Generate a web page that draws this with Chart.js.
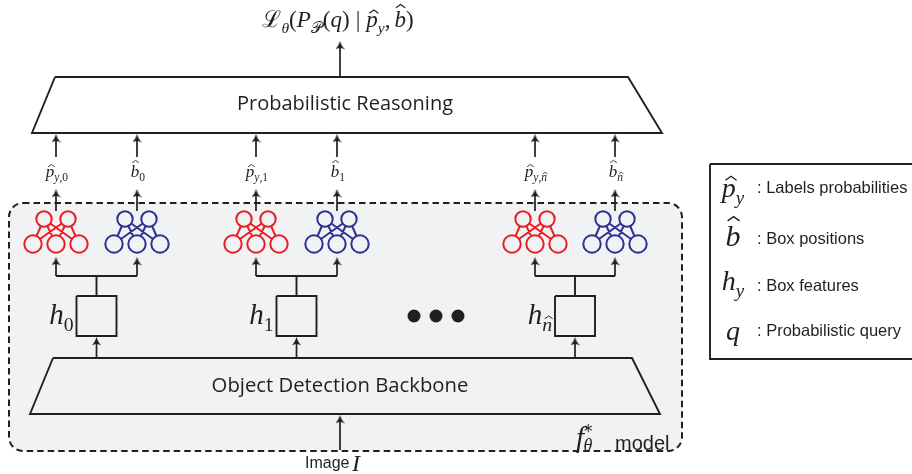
<!DOCTYPE html>
<html><head><meta charset="utf-8">
<script src="https://cdn.jsdelivr.net/npm/chart.js@4"></script>
<style>html,body{margin:0;padding:0;background:#fff;overflow:hidden}canvas{display:block}</style>
</head><body>
<canvas id="c" width="912" height="474"></canvas>
<script>
// ---------------- data (diagram coordinates in chart units) ----------------
const headCentersX = [56, 137, 256, 337, 535, 615];      // label head, box head, ...
const headKinds    = ['label', 'box', 'label', 'box', 'label', 'box'];
const headIndexTxt = ['0', '0', '1', '1', 'n', 'n'];       // 'n' = n-hat
const headTopY = 219, headBottomY = 244;
const headTopOffsets = [-12, 12];
const headBottomOffsets = [-23, 0, 23];
const featureBoxTopY = 296, featureBoxBottomY = 336, featureBoxHalf = 20;
const forkY = 276;
const reasoningX = [55, 628, 662, 32];   // TL, TR, BR, BL
const reasoningY = [77, 77, 133, 133];
const backboneX = [53, 632, 660, 30];
const backboneY = [358, 358, 414, 414];
const dotsX = [414, 436, 458];
const dotsY = 316;
const legendBoxX = [710, 916], legendBoxY = [164, 359];
const modelBox = { x0: 9, x1: 682, y0: 203, y1: 451, r: 14 };
const texts = {
  reasoning: 'Probabilistic Reasoning',
  backbone: 'Object Detection Backbone',
  legend: [': Labels probabilities', ': Box positions', ': Box features', ': Probabilistic query'],
  image: 'Image',
  model: 'model'
};

// ---------------- derived geometry ----------------
const featureBoxX = [0, 2, 4].map(i => (headCentersX[i] + headCentersX[i + 1]) / 2);
const P = (x, y) => ({ x, y });
const GAP = { x: null, y: null };

const structure = [];
const poly = (xs, ys) => { xs.forEach((x, i) => structure.push(P(x, ys[i]))); structure.push(P(xs[0], ys[0])); structure.push(GAP); };
poly(reasoningX, reasoningY);
poly(backboneX, backboneY);
featureBoxX.forEach(cx => poly([cx - featureBoxHalf, cx + featureBoxHalf, cx + featureBoxHalf, cx - featureBoxHalf],
                               [featureBoxTopY, featureBoxTopY, featureBoxBottomY, featureBoxBottomY]));
[0, 2, 4].forEach((i, k) => {
  structure.push(P(headCentersX[i], forkY), P(headCentersX[i + 1], forkY), GAP);
  structure.push(P(featureBoxX[k], featureBoxTopY), P(featureBoxX[k], forkY), GAP);
});
poly([legendBoxX[0], legendBoxX[1], legendBoxX[1], legendBoxX[0]], [legendBoxY[0], legendBoxY[0], legendBoxY[1], legendBoxY[1]]);

// arrows: tail y -> tip y (all point upward)
const arrows = [{ x: 340, y0: reasoningY[0], y1: 41 }, { x: 340, y0: 450, y1: backboneY[2] + 1 }];
headCentersX.forEach(x => {
  arrows.push({ x, y0: 157, y1: reasoningY[2] + 1 });
  arrows.push({ x, y0: 211, y1: 189 });
  arrows.push({ x, y0: forkY, y1: 257 });
});
featureBoxX.forEach(x => arrows.push({ x, y0: backboneY[0], y1: featureBoxBottomY + 1 }));
const arrowStems = [];
arrows.forEach(a => arrowStems.push(P(a.x, a.y0), P(a.x, a.y1 + 4), GAP));
const arrowTips = arrows.map(a => P(a.x, a.y1 + 4.5));

function headPts(kind, offs, y) {
  const out = [];
  headCentersX.forEach((cx, i) => { if (headKinds[i] === kind) offs.forEach(o => out.push(P(cx + o, y))); });
  return out;
}
function headLinks(kind) {
  const out = [];
  headCentersX.forEach((cx, i) => {
    if (headKinds[i] !== kind) return;
    headTopOffsets.forEach(t => headBottomOffsets.forEach(b => out.push(P(cx + t, headTopY), P(cx + b, headBottomY), GAP)));
  });
  return out;
}

// ---------------- styles ----------------
const INK = '#231f20', RED = '#ec1c24', BLUE = '#2e3192', BG = '#f1f2f4';
const ah = document.createElement('canvas'); ah.width = 9; ah.height = 9;
(() => { const a = ah.getContext('2d'); a.fillStyle = INK; a.beginPath();
  a.moveTo(4.5, 0); a.quadraticCurveTo(5.4, 4, 9, 8.6); a.quadraticCurveTo(5.8, 6.4, 4.5, 7.2);
  a.quadraticCurveTo(3.2, 6.4, 0, 8.6); a.quadraticCurveTo(3.6, 4, 4.5, 0); a.fill(); })();

const circleDs = (data, color, r) => ({ data, showLine: false, pointRadius: r, pointHoverRadius: r,
  pointBackgroundColor: BG, pointBorderColor: color, pointBorderWidth: 2, order: 1 });
const lineDs = (data, color, w, order) => ({ data, showLine: true, pointRadius: 0, borderColor: color,
  borderWidth: w, spanGaps: false, order, fill: false, borderJoinStyle: 'miter' });

const datasets = [
  circleDs(headPts('label', headTopOffsets, headTopY), RED, 7.7),
  circleDs(headPts('label', headBottomOffsets, headBottomY), RED, 8.7),
  circleDs(headPts('box', headTopOffsets, headTopY), BLUE, 7.7),
  circleDs(headPts('box', headBottomOffsets, headBottomY), BLUE, 8.7),
  lineDs(headLinks('label'), RED, 2, 3),
  lineDs(headLinks('box'), BLUE, 2, 3),
  lineDs(structure, INK, 1.9, 4),
  lineDs(arrowStems, INK, 1.7, 4),
  { data: arrowTips, showLine: false, pointStyle: ah, pointRadius: 5, order: 0 },
  { data: dotsX.map(x => P(x, dotsY)), showLine: false, pointRadius: 6.5, pointBackgroundColor: INK, pointBorderWidth: 0, order: 0 }
];

// ---------------- math text helpers ----------------
const SERIF = '"Liberation Serif","DejaVu Serif",serif';
const SANS = '"Liberation Sans",Arial,sans-serif';
const HUM = '"Open Sans",Lato,sans-serif';
const v = (t, s, o = {}) => Object.assign({ t, s, it: true }, o);
const sub = (parts, s) => parts.map(([t, it, extra]) => Object.assign({ t, s: s * 0.68, it, dy: s * 0.24 }, extra || {}));
const fontOf = it => (it.it ? 'italic ' : '') + it.s + 'px ' + (it.fam || SERIF);
function drawMath(ctx, items, x, y, align) {
  let w = 0;
  items.forEach(it => { if (it.sp) { w += it.sp; return; } ctx.font = fontOf(it); it._w = ctx.measureText(it.t).width; w += it._w; });
  let cx = align === 'center' ? x - w / 2 : align === 'right' ? x - w : x;
  ctx.textAlign = 'left'; ctx.textBaseline = 'alphabetic';
  items.forEach(it => {
    if (it.sp) { cx += it.sp; return; }
    const by = y + (it.dy || 0);
    ctx.font = fontOf(it); ctx.fillText(it.t, cx, by);
    if (it.hat) {
      const hx = cx + it._w / 2 + (it.hs != null ? it.hs : 0.08) * it.s, hy = by - it.hat * it.s;
      const hw = 0.2 * it.s, hh = 0.14 * it.s;
      ctx.save(); ctx.lineWidth = Math.max(0.8, it.s * 0.05); ctx.strokeStyle = ctx.fillStyle; ctx.lineJoin = 'miter';
      ctx.beginPath(); ctx.moveTo(hx - hw, hy); ctx.lineTo(hx, hy - hh); ctx.lineTo(hx + hw, hy); ctx.stroke(); ctx.restore();
    }
    cx += it._w;
  });
}
function idxSub(t, s) {
  return t === 'n' ? sub([['n', true, { hat: 0.62 }]], s) : sub([[t, false]], s);
}
function headLabel(kind, t) {
  if (kind === 'label') return [v('p', 17, { hat: 0.6 }), ...sub([['y', true], [',', false]], 17), ...idxSub(t, 17)];
  return [v('b', 17, { hat: 0.84, hs: 0.02 }), ...idxSub(t, 17)];
}
const FS = 23;
const topFormula = [
  v('ℒ', FS, { it: false, fam: '"DejaVu Serif",serif' }), ...sub([['θ', true]], FS),
  v('(', FS, { it: false }), v('P', FS), ...sub([['𝒫', false, { fam: '"DejaVu Serif","DejaVu Sans",serif' }]], FS),
  v('(', FS, { it: false }), v('q', FS), v(')', FS, { it: false }), { sp: 6 }, v('|', FS, { it: false }), { sp: 6 },
  v('p', FS, { hat: 0.6 }), ...sub([['y', true]], FS), v(',', FS, { it: false }), { sp: 4 },
  v('b', FS, { hat: 0.84, hs: 0.02 }), v(')', FS, { it: false })
];
const legendSyms = [
  [v('p', 28, { hat: 0.6 }), ...sub([['y', true]], 28)],
  [v('b', 30, { hat: 0.84, hs: 0.02 })],
  [v('h', 28), ...sub([['y', true]], 28)],
  [v('q', 28)]
];
const legendSymY = [197, 246, 290, 340];
const legendTextY = [193, 244, 291, 336];

function fitFont(ctx, text, fam, target) {
  ctx.font = '20px ' + fam; const w = ctx.measureText(text).width; return 20 * target / w;
}

const bgPlugin = {
  id: 'modelBox',
  beforeDatasetsDraw(chart) {
    const { ctx, scales: { x, y } } = chart;
    const x0 = x.getPixelForValue(modelBox.x0), x1 = x.getPixelForValue(modelBox.x1);
    const y0 = y.getPixelForValue(modelBox.y0), y1 = y.getPixelForValue(modelBox.y1);
    ctx.save();
    ctx.beginPath(); ctx.roundRect(x0, y0, x1 - x0, y1 - y0, modelBox.r);
    ctx.fillStyle = BG; ctx.fill();
    ctx.setLineDash([6.5, 4]); ctx.lineWidth = 2; ctx.strokeStyle = INK; ctx.stroke();
    ctx.restore();
  }
};
const textPlugin = {
  id: 'texts',
  afterDatasetsDraw(chart) {
    const { ctx, scales: { x, y } } = chart;
    const X = vv => x.getPixelForValue(vv), Y = vv => y.getPixelForValue(vv);
    ctx.save(); ctx.fillStyle = INK;
    drawMath(ctx, topFormula, X(338), Y(27), 'center');
    // trapezoid titles
    ctx.textAlign = 'center'; ctx.textBaseline = 'middle';
    let fs = fitFont(ctx, texts.reasoning, HUM, 216);
    ctx.font = fs.toFixed(2) + 'px ' + HUM; ctx.fillText(texts.reasoning, X(345), Y(104));
    fs = fitFont(ctx, texts.backbone, HUM, 257);
    ctx.font = fs.toFixed(2) + 'px ' + HUM; ctx.fillText(texts.backbone, X(340), Y(386));
    // head output labels
    headCentersX.forEach((cx, i) => drawMath(ctx, headLabel(headKinds[i], headIndexTxt[i]), X(cx + 1), Y(177), 'center'));
    // feature labels
    ['0', '1', 'n'].forEach((t, k) => drawMath(ctx, [v('h', 29), ...idxSub(t, 29)], X(featureBoxX[k] - featureBoxHalf - 3), Y(324), 'right'));
    // legend
    legendSyms.forEach((s, i) => drawMath(ctx, s, X(733), Y(legendSymY[i]), 'center'));
    ctx.textAlign = 'left'; ctx.textBaseline = 'alphabetic'; ctx.font = '16.5px ' + SANS;
    texts.legend.forEach((t, i) => ctx.fillText(t, X(757), Y(legendTextY[i])));
    // image + model
    ctx.font = '16px ' + SANS; ctx.fillText(texts.image, X(305), Y(468));
    drawMath(ctx, [v('I', 24)], X(352), Y(471), 'left');
    drawMath(ctx, [v('f', 29), v('*', 17, { it: false, dy: -10, fam: '"DejaVu Sans",sans-serif' }),
      { sp: -9 }, v('θ', 18, { dy: 4 })], X(576), Y(447), 'left');
    ctx.font = '20px ' + SANS; ctx.fillText(texts.model, X(615), Y(450));
    ctx.restore();
  }
};

new Chart(document.getElementById('c'), {
  type: 'scatter',
  data: { datasets },
  options: {
    responsive: false, animation: false, devicePixelRatio: 1, events: [],
    layout: { padding: 0, autoPadding: false },
    plugins: { legend: { display: false }, tooltip: { enabled: false } },
    scales: {
      x: { type: 'linear', min: 0, max: 912, display: false },
      y: { type: 'linear', min: 0, max: 474, reverse: true, display: false }
    }
  },
  plugins: [bgPlugin, textPlugin]
});
</script>
</body></html>
